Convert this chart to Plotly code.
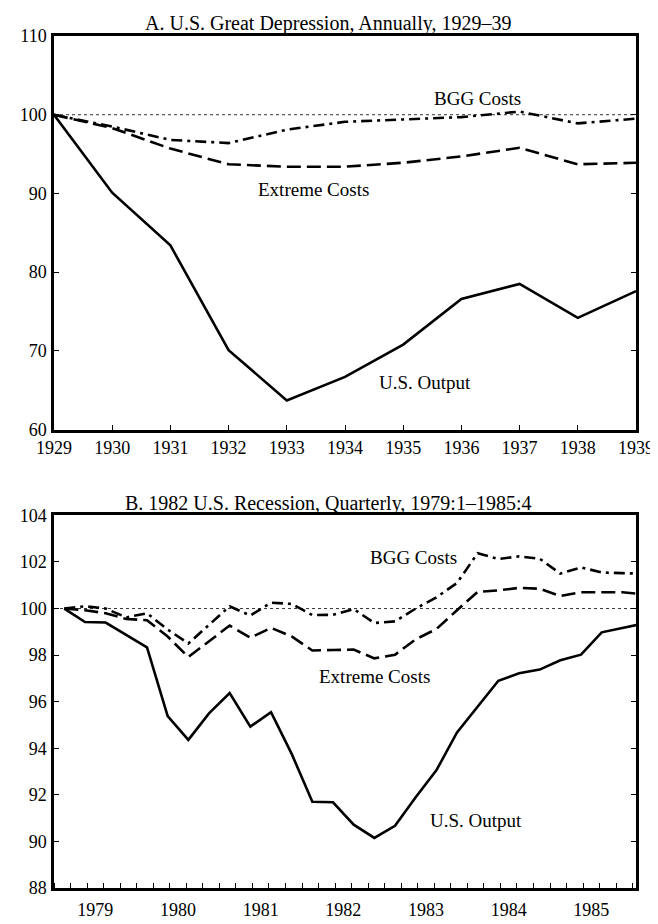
import plotly.graph_objects as go

# Panel A: annual, 1929-39 (index, 1929 = 100)
years_a = [1929, 1930, 1931, 1932, 1933, 1934, 1935, 1936, 1937, 1938, 1939]
output_a = [100, 90.1, 83.4, 70.1, 63.7, 66.7, 70.8, 76.6, 78.5, 74.2, 77.6]
bgg_a = [100, 98.5, 96.8, 96.4, 98.1, 99.1, 99.4, 99.7, 100.4, 98.9, 99.5]
extreme_a = [100, 98.3, 95.7, 93.7, 93.4, 93.4, 93.9, 94.7, 95.8, 93.7, 93.9]

# Panel B: quarterly, 1979:1-1985:4 (the line runs on to the frame edge)
quarters_b = [f"{y}:{q}" for y in range(1979, 1986) for q in range(1, 5)] + ["1986:1"]
output_b = [100, 99.42, 99.4, 98.86, 98.33, 95.38, 94.36, 95.5, 96.37, 94.93,
            95.55, 93.76, 91.7, 91.68, 90.72, 90.15, 90.67, 91.9, 93.05, 94.68,
            95.8, 96.9, 97.22, 97.38, 97.78, 98.02, 98.98, 99.17, 99.35]
bgg_b = [100, 100.1, 100.0, 99.62, 99.8, 99.1, 98.5, 99.3, 100.1, 99.7,
         100.25, 100.2, 99.72, 99.73, 99.98, 99.38, 99.45, 100.0, 100.48, 101.1,
         102.38, 102.13, 102.24, 102.14, 101.5, 101.77, 101.55, 101.52, 101.5]
extreme_b = [100, 99.93, 99.8, 99.55, 99.5, 98.8, 97.92, 98.58, 99.27, 98.75,
             99.17, 98.8, 98.2, 98.22, 98.24, 97.86, 98.02, 98.68, 99.12, 99.93,
             100.72, 100.78, 100.89, 100.85, 100.54, 100.7, 100.7, 100.7, 100.62]
year_labels_b = ["1979", "1980", "1981", "1982", "1983", "1984", "1985"]

# quarter "yyyy:q" -> midpoint of the quarter in fractional years
def quarter_pos(label):
    y, q = label.split(":")
    return int(y) + (int(q) - 1) * 0.25 + 0.125

x_b = [quarter_pos(q) for q in quarters_b]

FONT = "Liberation Serif"
LW = 2.6
styles = {
    "output": dict(color="black", width=LW, dash="solid"),
    "bgg": dict(color="black", width=LW, dash="11px,5px,3px,5px"),
    "extreme": dict(color="black", width=LW, dash="14px,6px"),
}

fig = go.Figure()

for ys, key in [(output_a, "output"), (extreme_a, "extreme"), (bgg_a, "bgg")]:
    fig.add_trace(go.Scatter(x=years_a, y=ys, mode="lines", line=styles[key],
                             xaxis="x", yaxis="y", showlegend=False))

for ys, key in [(output_b, "output"), (extreme_b, "extreme"), (bgg_b, "bgg")]:
    fig.add_trace(go.Scatter(x=x_b, y=ys, mode="lines", line=styles[key],
                             xaxis="x2", yaxis="y2", showlegend=False))

axis_common = dict(
    showline=True, linecolor="black", linewidth=2.5, mirror=True,
    showgrid=False, zeroline=False,
    ticks="inside", ticklen=5, tickwidth=1, tickcolor="black",
    tickfont=dict(family=FONT, size=18, color="black"),
)

fig.update_layout(
    width=658, height=924,
    margin=dict(l=44, r=21, t=28, b=32),
    paper_bgcolor="white", plot_bgcolor="white",
    font=dict(family=FONT, size=18, color="black"),
    xaxis=dict(axis_common, domain=[0, 1], anchor="y", range=[1929, 1939],
               tickmode="array", tickvals=years_a, ticklabelstandoff=0),
    yaxis=dict(axis_common, domain=[0.538, 1], anchor="x", range=[60, 110],
               tickmode="linear", tick0=60, dtick=10, mirror="allticks",
               ticklabelstandoff=1),
    xaxis2=dict(axis_common, domain=[0, 1], anchor="y2", range=[1979, 1986.04],
                tickmode="array", tickvals=[int(y) + 0.5 for y in year_labels_b],
                ticktext=year_labels_b, ticks="", ticklabelstandoff=4,
                minor=dict(ticks="inside", ticklen=5, tickwidth=1, tickcolor="black",
                           tick0=1979, dtick=0.2)),
    yaxis2=dict(axis_common, domain=[0, 0.4373], anchor="x2", range=[88, 104],
                tickmode="linear", tick0=88, dtick=2, mirror="allticks",
                ticklabelstandoff=1),
)

# dotted reference line at 100 in both panels
for xr, yr in [("x domain", "y"), ("x2 domain", "y2")]:
    fig.add_shape(type="line", xref=xr, yref=yr, x0=0, x1=1, y0=100, y1=100,
                  line=dict(color="#333333", width=1, dash="dot"), layer="below")

titles = [
    ("A. U.S. Great Depression, Annually, 1929\u201339", 1.015),
    ("B. 1982 U.S. Recession, Quarterly, 1979:1\u20131985:4", 0.4514),
]
for text, yp in titles:
    fig.add_annotation(text=text, xref="paper", yref="paper", x=0.47, y=yp,
                       xanchor="center", yanchor="middle", showarrow=False,
                       font=dict(family=FONT, size=20, color="black"))

labels = [
    ("BGG Costs", "x", "y", 1936.28, 102.0),
    ("Extreme Costs", "x", "y", 1933.46, 90.5),
    ("U.S. Output", "x", "y", 1935.38, 66.0),
    ("BGG Costs", "x2", "y2", 1983.35, 102.19),
    ("Extreme Costs", "x2", "y2", 1982.875, 97.08),
    ("U.S. Output", "x2", "y2", 1984.1, 90.89),
]
for text, xr, yr, xv, yv in labels:
    fig.add_annotation(text=text, xref=xr, yref=yr, x=xv, y=yv, showarrow=False,
                       xanchor="center", yanchor="middle",
                       font=dict(family=FONT, size=19, color="black"))

fig.write_html("out.html")
